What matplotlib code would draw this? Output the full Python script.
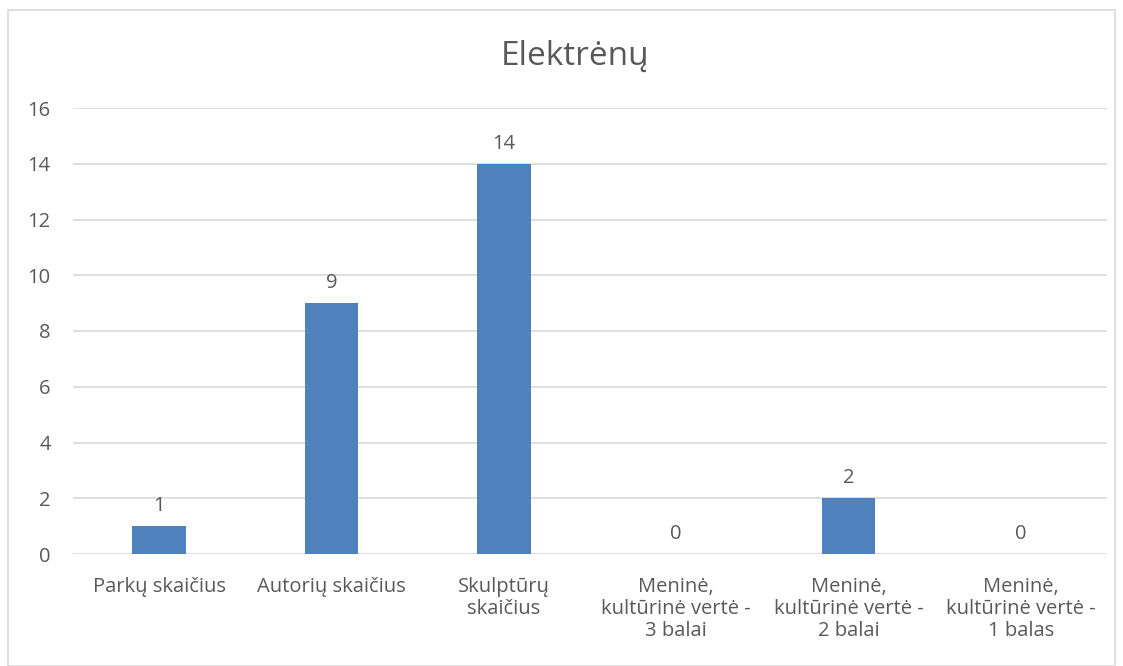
import matplotlib
matplotlib.use("Agg")
from matplotlib import pyplot as plt
from matplotlib.patches import Rectangle

title = "Elektrėnų"
categories = ["Parkų skaičius", "Autorių skaičius", "Skulptūrų\nskaičius",
              "Meninė,\nkultūrinė vertė -\n3 balai",
              "Meninė,\nkultūrinė vertė -\n2 balai",
              "Meninė,\nkultūrinė vertė -\n1 balas"]
values = [1, 9, 14, 0, 2, 0]
yticks = [0, 2, 4, 6, 8, 10, 12, 14, 16]

txt = '#595959'
fs = 14.5
plt.rcParams['font.family'] = ['Open Sans', 'DejaVu Sans']

fig = plt.figure(figsize=(11.23, 6.66), dpi=100)
fig.patches.append(Rectangle((8 / 1123, 0), 1107 / 1123, 656 / 666, transform=fig.transFigure,
                             facecolor='none', edgecolor='#d9d9d9', linewidth=1.2))
ax = fig.add_axes([73 / 1123, 112 / 666, 1034 / 1123, 446 / 666])

x = range(len(categories))
bars = ax.bar(x, values, width=0.31, color='#4f81bd', zorder=3)
for b, v in zip(bars, values):
    ax.text(b.get_x() + b.get_width() / 2, v + 0.35, str(v), ha='center', va='bottom',
            fontsize=fs, color=txt)

ax.set_xlim(-0.5, len(categories) - 0.5)
ax.set_ylim(0, 16)
ax.set_yticks(yticks)
ax.set_xticks(list(x))
ax.set_xticklabels(categories, fontsize=fs, color=txt, linespacing=1.12)
ax.tick_params(axis='y', labelsize=fs, labelcolor=txt, length=0, pad=16)
ax.tick_params(axis='x', length=0, pad=16.5)
ax.grid(axis='y', color='#d9d9d9', linewidth=1.2, zorder=0)
for s in ax.spines.values():
    s.set_visible(False)

fig.text(575 / 1123, 1 - 56 / 666, title, ha='center', va='center', fontsize=24, color=txt)

fig.savefig('out.png', dpi=100)
